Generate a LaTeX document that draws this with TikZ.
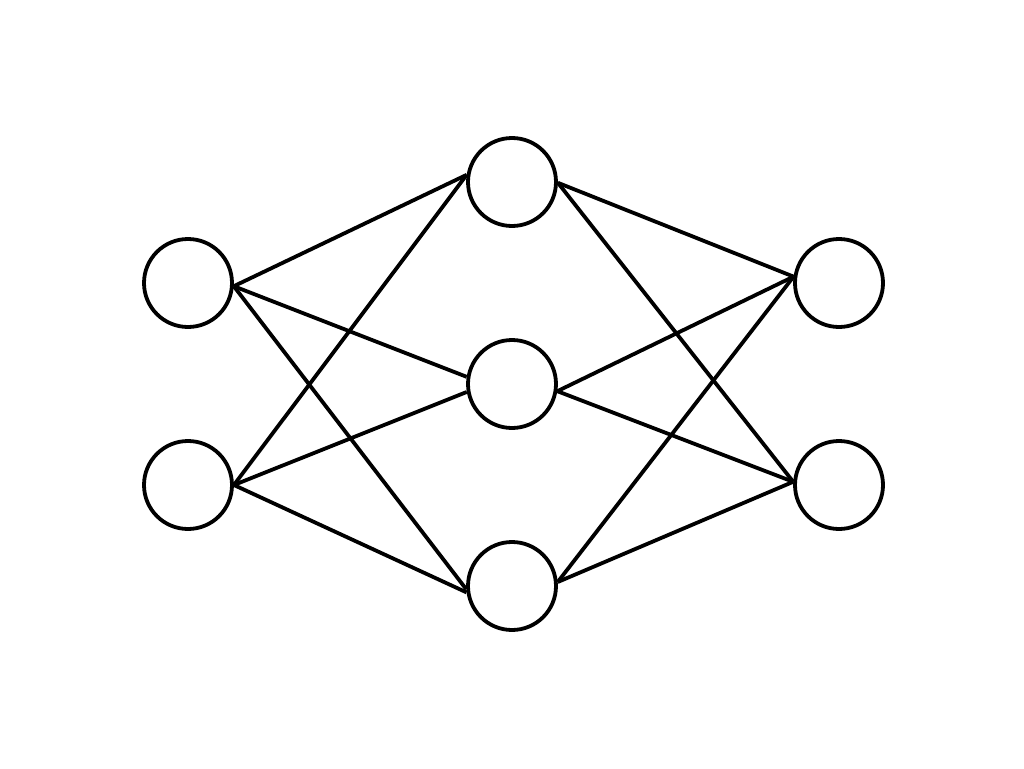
\documentclass[tikz,border=0pt]{standalone}
\begin{document}
\begin{tikzpicture}[x=1pt,y=-1pt,
  neuron/.style={circle,draw=black,fill=white,line width=3.8pt,minimum size=88pt,inner sep=0pt},
  edge/.style={draw=black,line width=3.8pt}]
\useasboundingbox (0,0) rectangle (1024,768);
\node[neuron] (L1) at (188,283) {};
\node[neuron] (L2) at (188,485) {};
\node[neuron] (M1) at (512,182) {};
\node[neuron] (M2) at (512,384) {};
\node[neuron] (M3) at (512,586) {};
\node[neuron] (R1) at (839,283) {};
\node[neuron] (R2) at (839,485) {};
% input to hidden
\draw[edge] (L1.356) -- (M1.171);
\draw[edge] (L1.356) -- (M2.171);
\draw[edge] (L1.356) -- (M3.184);
\draw[edge] (L2.east) -- (M1.171);
\draw[edge] (L2.east) -- (M2.190);
\draw[edge] (L2.east) -- (M3.188);
% hidden to output
\draw[edge] (M1.359) -- (R1.172);
\draw[edge] (M1.359) -- (R2.176);
\draw[edge] (M2.351) -- (R1.172);
\draw[edge] (M2.351) -- (R2.176);
\draw[edge] (M3.5) -- (R1.172);
\draw[edge] (M3.5) -- (R2.176);
\end{tikzpicture}
\end{document}
